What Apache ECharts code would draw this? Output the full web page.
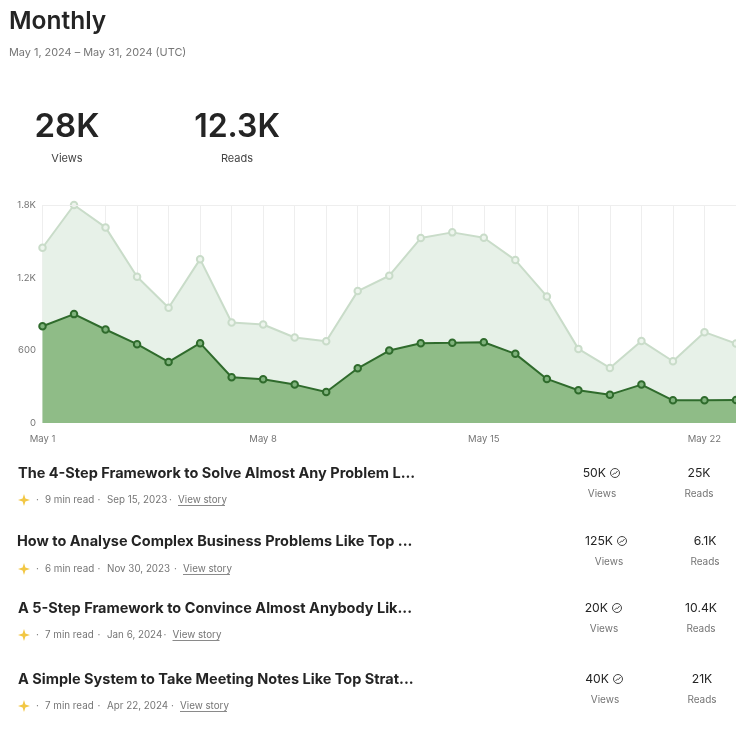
<!DOCTYPE html>
<html>
<head>
<meta charset="utf-8">
<title>Monthly</title>
<style>
  html, body { margin: 0; padding: 0; background: #fff; overflow: hidden; }
  #chart { width: 736px; height: 733px; }
</style>
<script src="https://cdn.jsdelivr.net/npm/echarts@6/dist/echarts.min.js"></script>
</head>
<body>
<div id="chart"></div>
<script>
const days = ['May 1','May 2','May 3','May 4','May 5','May 6','May 7','May 8','May 9','May 10','May 11','May 12',
  'May 13','May 14','May 15','May 16','May 17','May 18','May 19','May 20','May 21','May 22','May 23'];
const views = [1447,1800,1615,1207,951,1353,830,813,706,675,1089,1216,1527,1574,1530,1345,1045,612,455,678,510,750,656];
const reads = [799,899,772,651,504,659,378,361,317,256,452,598,659,662,667,571,364,270,234,317,187,187,190];
const yTicks = {0: '0', 600: '600', 1200: '1.2K', 1800: '1.8K'};

const storyTitles = [
  'The 4-Step Framework to Solve Almost Any Problem L...',
  'How to Analyse Complex Business Problems Like Top ...',
  'A 5-Step Framework to Convince Almost Anybody Lik...',
  'A Simple System to Take Meeting Notes Like Top Strat...'
];
const storyMins = ['9 min read', '6 min read', '7 min read', '7 min read'];
const storyDates = ['Sep 15, 2023', 'Nov 30, 2023', 'Jan 6, 2024', 'Apr 22, 2024'];
const storyViews = ['50K', '125K', '20K', '40K'];
const storyReads = ['25K', '6.1K', '10.4K', '21K'];

const font = 'Inter, "Liberation Sans", sans-serif';
const chart = echarts.init(document.getElementById('chart'));

function label(text, x, y, size, color, weight, align) {
  return {
    type: 'text', x: x, y: y,
    style: { text: text, font: (weight || 400) + ' ' + size + 'px ' + font, fill: color, textAlign: align || 'left', textVerticalAlign: 'middle' }
  };
}

// layout of each row, they are not quite aligned in the screenshot
const rowY = [474, 542, 609, 680];
const subY = [500, 569, 635, 706];
const numY = [473, 541, 608, 679];
const rowX = [18, 17, 18, 18];
const viewsX = [595, 602, 597, 598];
const readsX = [699, 705, 701, 702];
const linkX = [178, 183, 172.5, 180];

const star = [[0,-6],[1.4,-1.4],[6,0],[1.4,1.4],[0,6],[-1.4,1.4],[-6,0],[-1.4,-1.4]];

const graphics = [
  label('Monthly', 9, 22, 24.5, '#242424', 600),
  label('May 1, 2024 – May 31, 2024 (UTC)', 9, 53, 10.9, '#757575'),
  label('28K', 67, 127, 33, '#242424', 600, 'center'),
  label('Views', 67, 159, 11, '#444', 400, 'center'),
  label('12.3K', 237, 127, 32, '#242424', 600, 'center'),
  label('Reads', 237, 159, 11, '#444', 400, 'center')
];

storyTitles.forEach(function (t, i) {
  const sub = subY[i];
  graphics.push(label(t, rowX[i], rowY[i], 14.5, '#242424', 700));
  graphics.push({ type: 'polygon', shape: { points: star }, x: 24, y: sub, style: { fill: '#f2c744' } });
  graphics.push(label('·', 37.5, sub, 10, '#757575', 400, 'center'));
  graphics.push(label(storyMins[i], 45, sub, 9.8, '#757575'));
  graphics.push(label('·', 99, sub, 10, '#757575', 400, 'center'));
  graphics.push(label(storyDates[i], 107, sub, 9.8, '#757575'));
  graphics.push(label('·', linkX[i] - 7.5, sub, 10, '#757575', 400, 'center'));
  graphics.push(label('View story', linkX[i], sub, 9.8, '#757575'));
  graphics.push({
    type: 'line', shape: { x1: linkX[i], y1: sub + 5.5, x2: linkX[i] + 47, y2: sub + 5.5 },
    style: { stroke: '#8a8a8a', lineWidth: 1 }
  });

  const vx = viewsX[i], ny = numY[i], capY = ny + 21;
  graphics.push(label(storyViews[i], vx + 11, ny, 12.2, '#242424', 400, 'right'));
  graphics.push({ type: 'circle', shape: { cx: vx + 20, cy: ny, r: 4.5 }, style: { fill: 'none', stroke: '#444', lineWidth: 1 } });
  graphics.push({
    type: 'polyline',
    shape: { points: [[vx + 17.5, ny + 2], [vx + 19.5, ny], [vx + 20.5, ny + 0.5], [vx + 22.5, ny - 2]] },
    style: { fill: 'none', stroke: '#444', lineWidth: 1 }
  });
  graphics.push(label('Views', vx + 7, capY, 10, '#757575', 400, 'center'));
  graphics.push(label(storyReads[i], readsX[i], ny, 12.2, '#242424', 400, 'center'));
  graphics.push(label('Reads', readsX[i], capY, 10, '#757575', 400, 'center'));
});

const option = {
  animation: false,
  backgroundColor: '#fff',
  grid: { left: 42.5, right: -6, top: 205, height: 218, containLabel: false },
  xAxis: {
    type: 'category',
    data: days,
    boundaryGap: false,
    axisLine: { show: false },
    axisTick: { show: false },
    axisLabel: { interval: 6, color: '#757575', fontSize: 9.5, fontFamily: font, margin: 11 },
    splitLine: { show: true, interval: 0, lineStyle: { color: '#eeeeee', width: 1 } }
  },
  yAxis: {
    type: 'value',
    min: 0,
    max: 1800,
    interval: 600,
    axisLine: { show: false },
    axisTick: { show: false },
    splitLine: { show: false },
    axisLabel: {
      color: '#757575', fontSize: 9.5, fontFamily: font, margin: 6.5,
      formatter: function (v) { return yTicks[v]; }
    }
  },
  series: [
    {
      name: 'Views',
      type: 'line',
      data: views,
      symbol: 'circle',
      symbolSize: 6.5,
      clip: false,
      lineStyle: { color: '#c9dcc9', width: 2 },
      itemStyle: { color: '#edf5ed', borderColor: '#c9dcc9', borderWidth: 2 },
      areaStyle: { color: '#e7f1e8', opacity: 1 },
      markLine: {
        silent: true, symbol: 'none', label: { show: false },
        lineStyle: { color: '#eeeeee', width: 1, type: 'solid' },
        data: [{ yAxis: 1800 }]
      }
    },
    {
      name: 'Reads',
      type: 'line',
      data: reads,
      symbol: 'circle',
      symbolSize: 6.5,
      clip: false,
      lineStyle: { color: '#2f6b2c', width: 2 },
      itemStyle: { color: '#7fb37c', borderColor: '#2f6b2c', borderWidth: 2 },
      areaStyle: { color: '#8fbc87', opacity: 1 }
    }
  ],
  graphic: { elements: graphics }
};

chart.setOption(option);
</script>
</body>
</html>
